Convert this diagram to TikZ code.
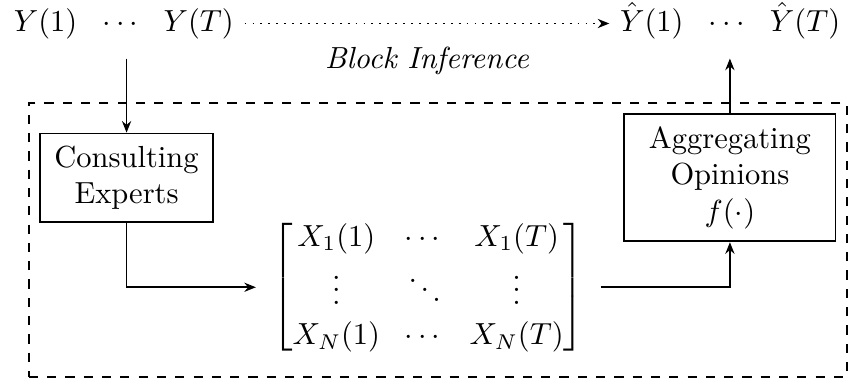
\documentclass[tikz,border=0pt]{standalone}
\usepackage{amsmath,amssymb}
\usepackage{tikz}
\usetikzlibrary{positioning,arrows.meta,calc,fit}
\tikzset{
  block/.style ={draw, semithick, align=center, inner xsep=4.7pt,
    inner ysep=4pt},
  seq/.style   ={inner ysep=6.3pt},
  opmat/.style ={inner xsep=5.2pt, inner ysep=3pt},
  frame/.style ={draw, dashed, semithick, inner sep=3.4pt},
  arr/.style   ={-{Stealth[length=3.8pt,width=3pt]}, semithick},
  note/.style  ={font=\itshape, midway, below=4pt}
}

\begin{document}
\begin{tikzpicture}[node distance=5mm and 6mm]
    \useasboundingbox (0,0) rectangle (278.4pt,-124.3pt);

    % ---------- true and estimated sequences ----------
    \node[seq, anchor=base] (ytrue) at (40.6pt,-10.2pt)
      {$Y(1)~~\cdots~~Y(T)$};
    \node[seq, base right=119.6pt of ytrue] (yest)
      {$\hat{Y}(1)~~\cdots~~\hat{Y}(T)$};

    % ---------- experts, opinions, aggregation ----------
    \node[block, below=24.3pt of ytrue, xshift=0.9pt] (consult)
      {Consulting\\Experts};
    \node[block, minimum width=69.2pt, right=134.3pt of consult] (aggr)
      {Aggregating\\Opinions\\$f(\cdot)$};
    \node[opmat] (xmat) at ($(consult)!0.5!(aggr)+(0,-35.9pt)$)
      {\setlength{\arraycolsep}{4pt}\renewcommand{\arraystretch}{1.1}%
      $\begin{bmatrix}
        X_1(1) & \cdots & X_1(T)\\
        \vdots & \ddots & \vdots\\
        X_N(1) & \cdots & X_N(T)
      \end{bmatrix}$};

    \node[frame, fit=(consult)(aggr)(xmat)] (system) {};

    \draw[arr, dotted] (ytrue.east) -- (ytrue.east -| yest.west)
      node[note] {Block Inference};
    \draw[arr] (ytrue.south -| consult.north) -- (consult.north);
    \draw[arr] (consult.south) |- (xmat.west);
    \draw[arr] (xmat.east) -| (aggr.south);
    \draw[arr] (aggr.north) -- (aggr.north |- yest.south);

  \end{tikzpicture}
\end{document}
